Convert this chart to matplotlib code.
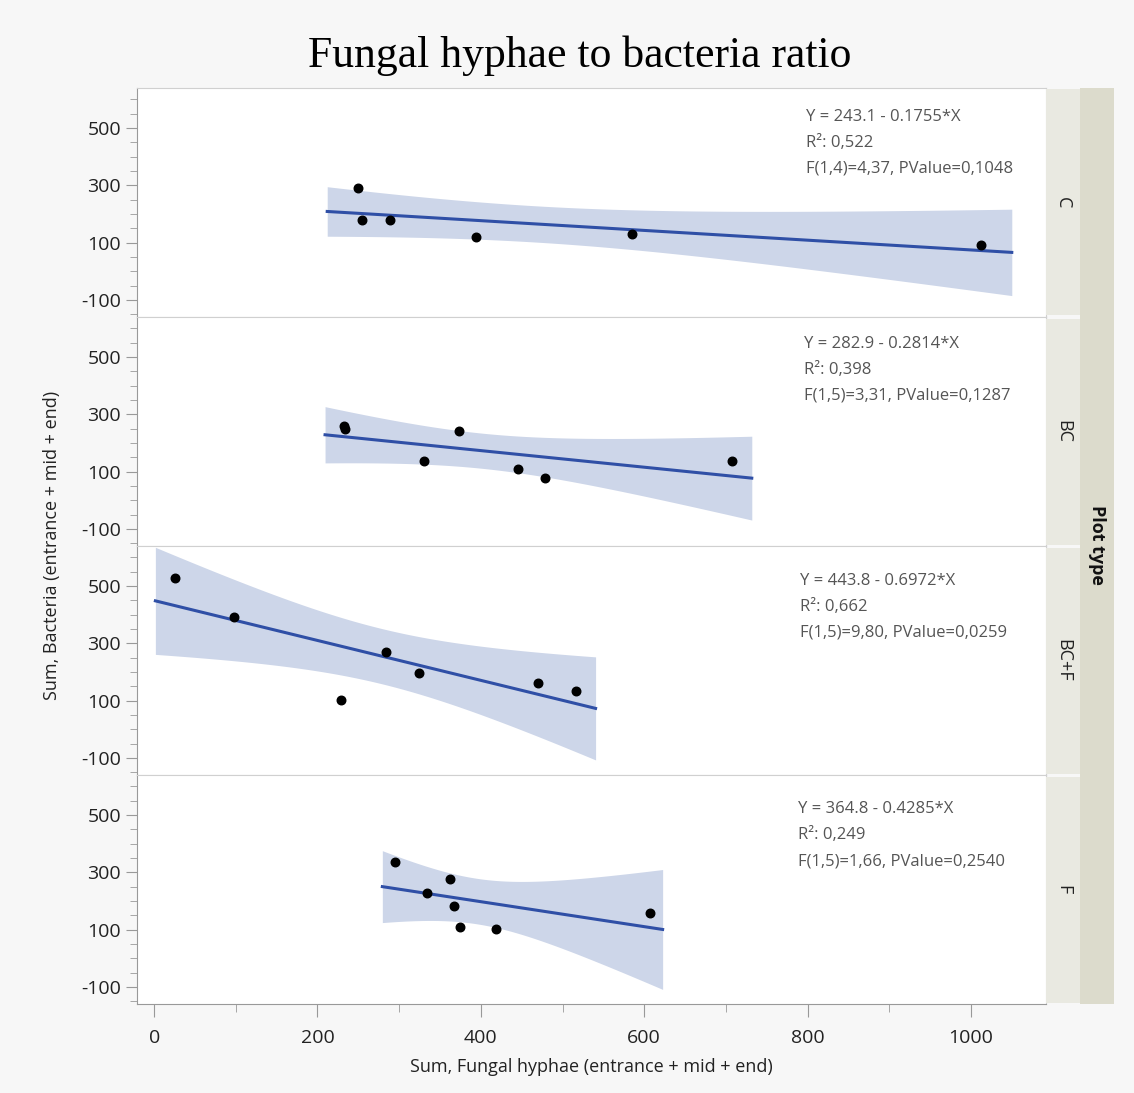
import numpy as np
import matplotlib.pyplot as plt
from matplotlib.patches import Rectangle
from matplotlib.ticker import MultipleLocator

plt.rcParams['font.family'] = ['Open Sans', 'DejaVu Sans']
plt.rcParams['axes.unicode_minus'] = False

plot_types = ["C", "BC", "BC+F", "F"]

# values
fungal_c = [250, 254, 289, 394, 585, 1012]
bacteria_c = [292, 180, 180, 121, 131, 90]
fungal_bc = [233, 234, 373, 331, 445, 479, 708]
bacteria_bc = [260, 247, 243, 138, 110, 76, 138]
fungal_bcf = [26, 98, 284, 324, 229, 470, 516]
bacteria_bcf = [529, 393, 268, 198, 103, 163, 135]
fungal_f = [295, 334, 362, 367, 375, 419, 607]
bacteria_f = [337, 229, 278, 184, 110, 103, 159]

fungal = [fungal_c, fungal_bc, fungal_bcf, fungal_f]
bacteria = [bacteria_c, bacteria_bc, bacteria_bcf, bacteria_f]

fit_text = [
    ["Y = 243.1 - 0.1755*X", "R\u00b2: 0,522", "F(1,4)=4,37, PValue=0,1048"],
    ["Y = 282.9 - 0.2814*X", "R\u00b2: 0,398", "F(1,5)=3,31, PValue=0,1287"],
    ["Y = 443.8 - 0.6972*X", "R\u00b2: 0,662", "F(1,5)=9,80, PValue=0,0259"],
    ["Y = 364.8 - 0.4285*X", "R\u00b2: 0,249", "F(1,5)=1,66, PValue=0,2540"],
]
text_pos = [(0.736, 0.873), (0.734, 0.882), (0.729, 0.847), (0.727, 0.850)]

# two-sided 95% t quantiles by residual df
t_crit = {4: 2.776, 5: 2.571}

W, H = 1134, 1093
fig = plt.figure(figsize=(W / 100, H / 100), dpi=100, facecolor='#f7f7f7')

left, right = 137, 1046
top, bottom = 88, 1004
panel_h = (bottom - top) / 4

axes = []
for i in range(4):
    y0 = top + i * panel_h
    ax = fig.add_axes([left / W, 1 - (y0 + panel_h) / H, (right - left) / W, panel_h / H])
    axes.append(ax)

    x = np.array(fungal[i], dtype=float)
    y = np.array(bacteria[i], dtype=float)
    n = len(x)
    b, a = np.polyfit(x, y, 1)
    resid = y - (a + b * x)
    s = np.sqrt(np.sum(resid ** 2) / (n - 2))
    sxx = np.sum((x - x.mean()) ** 2)
    pad = 0.05 * (x.max() - x.min())
    xs = np.linspace(x.min() - pad, x.max() + pad, 200)
    ys = a + b * xs
    half = t_crit[n - 2] * s * np.sqrt(1 / n + (xs - x.mean()) ** 2 / sxx)

    ax.fill_between(xs, ys - half, ys + half, color='#cdd6e9', lw=0, zorder=1)
    ax.plot(xs, ys, color='#2f4fa6', lw=2.2, zorder=2)
    ax.scatter(x, y, s=38, color='black', zorder=3)

    for j, line in enumerate(fit_text[i]):
        tx, ty = text_pos[i]
        ax.text(tx, ty - j * 0.113, line, transform=ax.transAxes, fontsize=12,
                color='#555555', va='center', ha='left')

    ax.set_xlim(-21, 1092)
    ax.set_ylim(-160, 640)
    ax.yaxis.set_minor_locator(MultipleLocator(50))
    ax.xaxis.set_major_locator(MultipleLocator(200))
    ax.xaxis.set_minor_locator(MultipleLocator(100))
    ax.set_yticks([-100, 100, 300, 500])
    ax.tick_params(axis='y', which='major', length=8, color='#999999', labelsize=14, labelcolor='#222222')
    ax.tick_params(axis='y', which='minor', length=5, color='#999999')
    for side in ['top', 'right', 'bottom']:
        ax.spines[side].set_color('#d0d0d0')
    ax.spines['left'].set_color('#999999')
    ax.set_facecolor('white')
    if i < 3:
        ax.tick_params(axis='x', which='both', bottom=False, labelbottom=False)
    else:
        ax.tick_params(axis='x', which='major', length=9, pad=9, color='#999999', labelsize=14, labelcolor='#222222')
        ax.tick_params(axis='x', which='minor', length=6, color='#999999')
        ax.spines['bottom'].set_color('#999999')
        ax.set_xlabel("Sum, Fungal hyphae (entrance + mid + end)", fontsize=13, color='#222222', labelpad=8)

    # strip cell for this panel
    fig.patches.append(Rectangle((right / W, 1 - (y0 + panel_h - 1.5) / H), 34 / W, (panel_h - 3) / H,
                                 transform=fig.transFigure, facecolor='#e9e9e1', edgecolor='none'))
    fig.text((right + 17) / W, 1 - (y0 + panel_h / 2) / H, plot_types[i], rotation=-90,
             ha='center', va='center', fontsize=13, color='#222222')

fig.patches.append(Rectangle((1080 / W, 1 - bottom / H), 34 / W, (bottom - top) / H,
                             transform=fig.transFigure, facecolor='#dcdbcc', edgecolor='none'))
fig.text(1097 / W, 1 - 545 / H, "Plot type", rotation=-90, ha='center', va='center',
         fontsize=13, fontweight='bold', color='#111111')

fig.text(52 / W, 1 - 545 / H, "Sum, Bacteria (entrance + mid + end)", rotation=90,
         ha='center', va='center', fontsize=13, color='#222222')
fig.text(580 / W, 1 - 56 / H, "Fungal hyphae to bacteria ratio", ha='center', va='center',
         fontsize=31.5, family='Liberation Serif', color='black')

fig.savefig('out.png', dpi=100, facecolor=fig.get_facecolor())
